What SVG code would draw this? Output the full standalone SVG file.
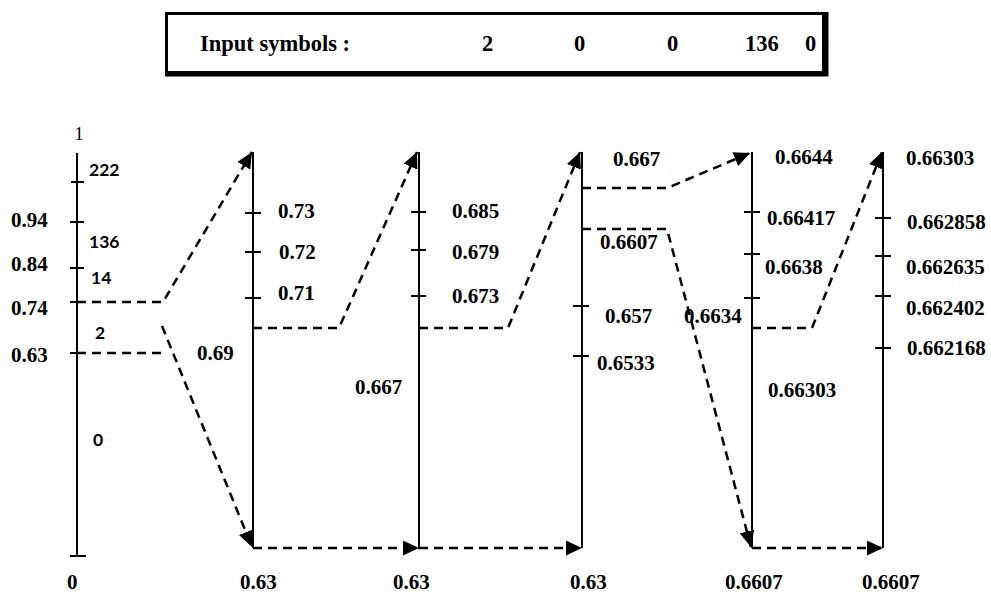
<svg xmlns="http://www.w3.org/2000/svg" width="991" height="596" viewBox="0 0 991 596">
<style>
.t{font-family:"Liberation Serif","Times New Roman",serif;font-weight:bold;font-size:21px;fill:#000}
.b{font-family:"Liberation Serif","Times New Roman",serif;font-weight:bold;font-size:22.5px;fill:#000}
.s{font-family:Lato,"Open Sans",sans-serif;font-weight:bold;font-size:17.5px;fill:#000}
.ax{stroke:#000;stroke-width:2;fill:none}
.tk{stroke:#000;stroke-width:2}
.d{stroke:#000;stroke-width:2.5;stroke-dasharray:9 6;fill:none}
.da{stroke:#000;stroke-width:2.5;stroke-dasharray:9 6;fill:none;marker-end:url(#ah)}
</style>
<defs>
<marker id="ah" markerUnits="userSpaceOnUse" markerWidth="17" markerHeight="15" refX="16" refY="7.5" orient="auto">
<path d="M0,0 L16,7.5 L0,15 Z" fill="#000"/>
</marker>
</defs>
<rect width="991" height="596" fill="#fff"/>
<g id="input-box">
<rect x="166.5" y="13.5" width="657" height="59" fill="#fff" stroke="#000" stroke-width="3"/>
<line x1="165" y1="74" x2="828" y2="74" stroke="#000" stroke-width="5"/>
<line x1="826" y1="12" x2="826" y2="76" stroke="#000" stroke-width="5"/>
<text class="b" x="200" y="51">Input symbols :</text>
<text class="b" x="482" y="51">2</text>
<text class="b" x="574" y="51">0</text>
<text class="b" x="667" y="51">0</text>
<text class="b" x="745" y="51">136</text>
<text class="b" x="805" y="51">0</text>
</g>
<g id="axis0">
<line class="ax" x1="77" y1="153" x2="77" y2="556"/>
<line class="tk" x1="70" y1="556" x2="86" y2="556"/>
<line class="tk" x1="71" y1="182" x2="84" y2="182"/>
<line class="tk" x1="70" y1="222" x2="84" y2="222"/>
<line class="tk" x1="70" y1="268" x2="84" y2="268"/>
<line class="tk" x1="70" y1="302" x2="86" y2="302"/>
<line class="tk" x1="70" y1="353" x2="86" y2="353"/>
<text x="79" y="140" text-anchor="middle" style="font-family:'Liberation Serif',serif;font-size:18px;fill:#000">1</text>
<text class="t" x="11" y="227">0.94</text>
<text class="t" x="11" y="271">0.84</text>
<text class="t" x="11" y="315">0.74</text>
<text class="t" x="11" y="362">0.63</text>
<text class="s" x="89" y="176">222</text>
<text class="s" x="89" y="248">136</text>
<text class="s" x="91" y="284">14</text>
<text class="s" x="95" y="339">2</text>
<text class="s" x="93" y="446">0</text>
<text class="t" x="67" y="589">0</text>
</g>
<g id="axis1">
<line class="ax" x1="253" y1="152" x2="253" y2="548"/>
<line class="tk" x1="245" y1="213" x2="261" y2="213"/>
<line class="tk" x1="245" y1="252" x2="261" y2="252"/>
<line class="tk" x1="245" y1="298" x2="261" y2="298"/>
<text class="t" x="197" y="360">0.69</text>
<text class="t" x="278" y="218">0.73</text>
<text class="t" x="279" y="259">0.72</text>
<text class="t" x="278" y="300">0.71</text>
<text class="t" x="240" y="589">0.63</text>
</g>
<g id="axis2">
<line class="ax" x1="419" y1="152" x2="419" y2="548"/>
<line class="tk" x1="411" y1="212" x2="426" y2="212"/>
<line class="tk" x1="411" y1="250" x2="426" y2="250"/>
<line class="tk" x1="411" y1="296" x2="426" y2="296"/>
<text class="t" x="355" y="394">0.667</text>
<text class="t" x="452" y="218">0.685</text>
<text class="t" x="452" y="259">0.679</text>
<text class="t" x="452" y="303">0.673</text>
<text class="t" x="393" y="589">0.63</text>
</g>
<g id="axis3">
<line class="ax" x1="582" y1="152" x2="582" y2="548"/>
<line class="tk" x1="573" y1="306" x2="589" y2="306"/>
<line class="tk" x1="573" y1="356" x2="589" y2="356"/>
<text class="t" x="613" y="166">0.667</text>
<text class="t" x="600" y="249">0.6607</text>
<text class="t" x="605" y="323">0.657</text>
<text class="t" x="597" y="370">0.6533</text>
<text class="t" x="570" y="589">0.63</text>
</g>
<g id="axis4">
<line class="ax" x1="752" y1="152" x2="752" y2="548"/>
<line class="tk" x1="744" y1="212" x2="760" y2="212"/>
<line class="tk" x1="744" y1="254" x2="760" y2="254"/>
<line class="tk" x1="744" y1="298" x2="760" y2="298"/>
<text class="t" x="684" y="323">0.6634</text>
<text class="t" x="775" y="164">0.6644</text>
<text class="t" x="767" y="225">0.66417</text>
<text class="t" x="765" y="274">0.6638</text>
<text class="t" x="768" y="397">0.66303</text>
<text class="t" x="725" y="589">0.6607</text>
</g>
<g id="axis5">
<line class="ax" x1="883" y1="152" x2="883" y2="548"/>
<line class="tk" x1="875" y1="218" x2="891" y2="218"/>
<line class="tk" x1="875" y1="256" x2="891" y2="256"/>
<line class="tk" x1="875" y1="296" x2="891" y2="296"/>
<line class="tk" x1="875" y1="348" x2="891" y2="348"/>
<text class="t" x="906" y="165">0.66303</text>
<text class="t" x="907" y="229">0.662858</text>
<text class="t" x="906" y="274">0.662635</text>
<text class="t" x="906" y="315">0.662402</text>
<text class="t" x="907" y="355">0.662168</text>
<text class="t" x="862" y="589">0.6607</text>
</g>
<g id="connectors">
<polyline class="da" points="77,302 163,302 252,152"/>
<polyline class="d" points="77,353 163,353"/>
<line class="da" x1="162" y1="326" x2="252" y2="547"/>
<polyline class="da" points="253,328 339,328 417,152"/>
<polyline class="da" points="419,328 508,328 580,152"/>
<polyline class="da" points="582,188 667,188 750,153"/>
<polyline class="da" points="582,229 667,229 751,547"/>
<polyline class="da" points="752,328 812,328 882,152"/>
<line class="da" x1="253" y1="548" x2="419" y2="548"/>
<line class="da" x1="419" y1="548" x2="582" y2="548"/>
<line class="da" x1="752" y1="548" x2="883" y2="548"/>
</g>
</svg>
